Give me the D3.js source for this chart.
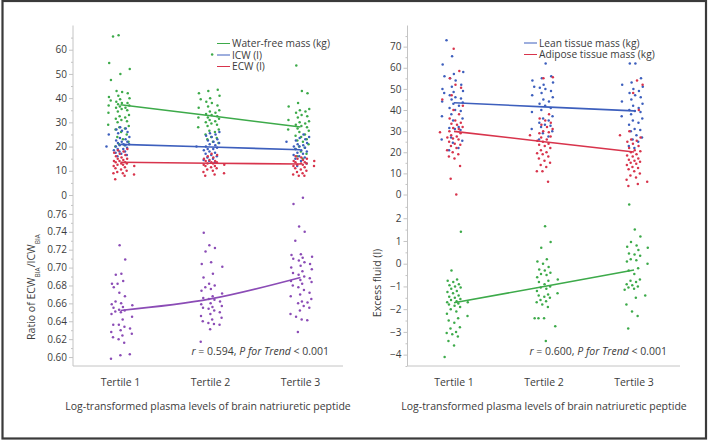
<!DOCTYPE html>
<html>
<head>
<meta charset="utf-8">
<script src="https://d3js.org/d3.v7.min.js"></script>
<style>
  body { margin: 0; background: #fff; }
  svg { display: block; font-family: "Open Sans", sans-serif; }
</style>
</head>
<body>
<svg id="chart" width="709" height="442"></svg>
<script>
// ---- data ----
const tertiles = ["Tertile 1", "Tertile 2", "Tertile 3"];

// left panel, upper part
const waterFree = [
  [65.5, 66, 54.5, 52, 50, 47.5, 43, 42.5, 42, 41, 40.5, 40, 39.5, 39, 38.5, 38, 38, 37.5, 37, 37, 36.5, 36, 36, 35.5, 35, 34.5, 34, 33, 32.5, 32, 31.5, 31, 30.5, 30, 29, 28.5, 28, 27.5, 27, 26, 25, 24, 23, 22, 21, 20.5, 20],
  [58, 43.5, 43, 42, 41, 40, 39.5, 38.5, 38, 37, 36.5, 36, 35, 34.5, 34, 33.5, 33, 32.5, 32, 32, 31.5, 31, 30.5, 30, 29.5, 29, 28.5, 28, 27, 26.5, 26, 25, 24, 23.5, 23, 22, 21.5],
  [53.5, 43, 42, 38, 36.5, 35.5, 35, 34.5, 34, 33, 32.5, 32, 31, 30.5, 30, 29.5, 29, 28.5, 28, 27.5, 27, 26.5, 26, 25, 24.5, 24, 23, 22.5, 22, 21, 20, 19.5, 19, 18, 17, 16, 15]
];
const icw = [
  [28, 27.5, 27, 26.5, 26, 25.5, 25, 24, 23.5, 23, 22.5, 22, 22, 21.5, 21, 21, 20.5, 20.5, 20, 20, 19.5, 19, 19, 18.5, 18, 18, 17.5, 17, 16.5, 16],
  [26, 25.5, 25, 24.5, 24, 23, 22.5, 22, 21.5, 21, 20.5, 20, 20, 19.5, 19, 19, 18.5, 18, 17.5, 17, 16.5, 16, 15.5, 15, 14.5, 14, 13.5],
  [25, 24, 23.5, 23, 22.5, 22, 21.5, 21, 20.5, 20, 20, 19.5, 19, 18.5, 18, 17.5, 17, 16.5, 16, 15.5, 15, 14, 13, 12]
];
const ecw = [
  [19, 18.5, 18, 17.5, 17, 16.5, 16, 15.5, 15, 15, 14.5, 14, 14, 13.5, 13.5, 13, 13, 12.5, 12.5, 12, 12, 11.5, 11, 10.5, 10, 9.5, 9, 9, 8.5, 8, 6.5],
  [17, 16.5, 16, 15.5, 15, 14.5, 14, 14, 13.5, 13.5, 13, 13, 12.5, 12.5, 12, 12, 11.5, 11, 10.5, 10, 9.5, 9, 8.5, 8],
  [16, 15.5, 15, 15, 14.5, 14, 14, 13.5, 13.5, 13, 13, 12.5, 12.5, 12, 12, 11.5, 11, 10.5, 10, 9.5, 9, 8.5, 8, 8]
];
const waterFreeTrend = [37.3, 32.7, 28.1];
const icwTrend = [20.9, 19.8, 18.7];
const ecwTrend = [13.5, 13.1, 12.8];

// left panel, lower part
const ratio = [
  [0.725, 0.709, 0.692, 0.693, 0.682, 0.682, 0.685, 0.678, 0.672, 0.668, 0.662, 0.660, 0.659, 0.658, 0.656, 0.655, 0.653, 0.652, 0.651, 0.650, 0.648, 0.645, 0.642, 0.636, 0.636, 0.634, 0.632, 0.630, 0.628, 0.626, 0.624, 0.622, 0.620, 0.616, 0.603, 0.602, 0.598],
  [0.739, 0.725, 0.722, 0.718, 0.706, 0.704, 0.701, 0.693, 0.689, 0.682, 0.680, 0.678, 0.676, 0.674, 0.671, 0.668, 0.666, 0.665, 0.664, 0.662, 0.660, 0.659, 0.657, 0.656, 0.655, 0.654, 0.652, 0.650, 0.648, 0.646, 0.644, 0.642, 0.640, 0.638, 0.637, 0.636, 0.631, 0.617],
  [0.778, 0.771, 0.746, 0.740, 0.730, 0.715, 0.714, 0.712, 0.711, 0.710, 0.708, 0.706, 0.704, 0.702, 0.700, 0.698, 0.696, 0.694, 0.692, 0.690, 0.688, 0.686, 0.685, 0.684, 0.682, 0.680, 0.678, 0.675, 0.672, 0.670, 0.668, 0.665, 0.662, 0.661, 0.660, 0.657, 0.655, 0.652, 0.648, 0.645, 0.642, 0.641, 0.628]
];
const ratioTrend = [0.652, 0.665, 0.689];

// right panel, upper part
const lean = [
  [73, 65.5, 61.5, 58, 57, 56, 55, 54, 52, 51, 50, 49, 48.5, 48, 47, 46, 45.5, 45, 44, 43.5, 43, 42, 41, 40, 39.5, 38, 37, 36, 35, 32, 31.5, 31, 30.5, 27, 26, 25.5, 24.5, 22, 21],
  [62, 56, 55, 54, 53, 52, 51, 50.5, 50, 49, 48, 47, 46, 45, 44, 43, 42, 41, 40, 39, 37, 36, 35, 34, 33, 32.5, 32, 31, 30, 29, 27.5, 26],
  [62, 62, 55, 53, 52, 51, 50, 49, 48, 47, 46, 45, 44, 43, 42, 41, 40, 39.5, 39, 38, 37, 36, 35, 34, 33, 31, 30.5, 30, 28, 27, 26, 25, 23, 22]
];
const adipose = [
  [69, 58.5, 55, 52, 50.5, 47, 45, 42, 40, 38, 36, 35, 34, 33.5, 33, 32, 31.5, 31, 30, 29.5, 29, 28, 27.5, 27, 26.5, 26, 25, 24, 23.5, 23, 22, 21, 20, 19, 18, 17, 13.5, 7.5, 0],
  [55.5, 55, 38, 36, 35, 34, 33, 32, 31, 30, 29.5, 29, 28, 27.5, 27, 26, 25.5, 25, 24, 23.5, 23, 22, 21, 20, 19.5, 19, 18, 17, 16, 15, 14, 13, 11, 11, 6],
  [54, 52, 48, 40, 30, 28, 27, 26, 25.5, 25, 24, 23, 22, 21, 20.5, 20, 19, 18.5, 18, 17, 16.5, 16, 15.5, 15, 14.5, 14, 13, 12.5, 12, 11, 10, 9, 8, 7, 6, 5, 4]
];
const leanTrend = [43.4, 41.5, 39.6];
const adiposeTrend = [29.9, 25.0, 20.1];

// right panel, lower part
const excess = [
  [1.4, -0.3, -0.7, -0.75, -0.8, -0.9, -0.95, -1.0, -1.05, -1.1, -1.2, -1.25, -1.3, -1.4, -1.45, -1.5, -1.55, -1.6, -1.65, -1.7, -1.7, -1.75, -1.8, -1.85, -1.9, -2.0, -2.1, -2.2, -2.3, -2.4, -2.5, -2.6, -2.8, -2.85, -3.0, -3.05, -3.1, -3.2, -3.4, -3.6, -4.1],
  [1.65, 0.95, 0.7, 0.2, 0.1, 0.0, -0.15, -0.25, -0.3, -0.4, -0.45, -0.5, -0.6, -0.7, -0.75, -0.8, -0.9, -1.0, -1.05, -1.1, -1.2, -1.3, -1.35, -1.4, -1.45, -1.5, -1.6, -1.65, -1.7, -1.8, -1.9, -2.4, -2.4, -2.4, -2.75, -3.4],
  [2.6, 1.5, 1.2, 0.95, 0.8, 0.75, 0.7, 0.6, 0.45, 0.4, 0.35, 0.2, 0.15, 0.1, 0.0, -0.2, -0.3, -0.45, -0.7, -0.75, -0.8, -0.9, -0.95, -1.0, -1.05, -1.1, -1.15, -1.4, -1.5, -1.8, -2.1, -2.3, -2.85]
];
const excessTrend = [-1.72, -1.0, -0.28];

// tick labels
const leftUpperTicks = [0, 10, 20, 30, 40, 50, 60];
const leftLowerTicks = [0.60, 0.62, 0.64, 0.66, 0.68, 0.70, 0.72, 0.74, 0.76];
const rightUpperTicks = [0, 10, 20, 30, 40, 50, 60, 70];
const rightLowerTicks = [-4, -3, -2, -1, 0, 1, 2];

// ---- drawing ----
const GREEN = "#3daa4a", BLUE = "#3d5fbd", RED = "#d8344c", PURPLE = "#8b4cb6";
const AXIS = "#c4c4c4", TEXT = "#3c3c3c";

const svg = d3.select("#chart");

// outer frame
svg.append("rect")
  .attr("x", 2.5).attr("y", 1).attr("width", 703.5).attr("height", 437.5)
  .attr("fill", "none").attr("stroke", "#3a3a3a").attr("stroke-width", 2.2);

// cheap deterministic spread, denser near the middle
function jitter(i, k) {
  const f1 = (i * 0.618034 + k * 0.31) % 1;
  const f2 = (i * 0.7548777 + k * 0.17 + 0.5) % 1;
  return (f1 + f2 - 1) * 15;
}

function panel(cfg) {
  const g = svg.append("g");
  const x = d3.scalePoint().domain(tertiles).range(cfg.xRange);
  const yU = d3.scaleLinear().domain(cfg.upperDomain).range([cfg.yMid, cfg.yTop]);
  const yL = d3.scaleLinear().domain(cfg.lowerDomain).range([cfg.yBottom, cfg.yMid + 1]);

  // minor ticks
  g.append("g").attr("transform", `translate(${cfg.axisX},0)`)
    .call(d3.axisLeft(yU).tickValues(cfg.upperMinor).tickSize(2).tickFormat(""))
    .call(s => s.select(".domain").remove());
  g.append("g").attr("transform", `translate(${cfg.axisX},0)`)
    .call(d3.axisLeft(yL).tickValues(cfg.lowerMinor).tickSize(2).tickFormat(""))
    .call(s => s.select(".domain").remove());

  // major ticks
  g.append("g").attr("transform", `translate(${cfg.axisX},0)`)
    .call(d3.axisLeft(yU).tickValues(cfg.upperTicks).tickSize(4).tickPadding(2).tickFormat(d3.format("d")))
    .call(s => s.select(".domain").remove());
  g.append("g").attr("transform", `translate(${cfg.axisX},0)`)
    .call(d3.axisLeft(yL).tickValues(cfg.lowerTicks).tickSize(4).tickPadding(2).tickFormat(cfg.lowerFormat))
    .call(s => s.select(".domain").remove());

  g.selectAll(".tick line").attr("stroke", AXIS);
  g.selectAll(".tick text").attr("fill", TEXT).style("font-size", "10px")
    .style("font-family", "'Open Sans', sans-serif");

  // axis lines
  g.append("line").attr("x1", cfg.axisX).attr("x2", cfg.axisX)
    .attr("y1", cfg.yTop).attr("y2", cfg.yBottom).attr("stroke", AXIS);
  g.append("line").attr("x1", cfg.axisX).attr("x2", cfg.xEnd)
    .attr("y1", cfg.yBottom).attr("y2", cfg.yBottom).attr("stroke", AXIS);

  // x categories
  g.selectAll("text.cat").data(tertiles).join("text")
    .attr("class", "cat")
    .attr("x", d => x(d)).attr("y", cfg.yBottom + 20)
    .attr("text-anchor", "middle").attr("fill", TEXT).style("font-size", "10.5px")
    .text(d => d);

  g.append("text")
    .attr("x", cfg.titleX).attr("y", cfg.yBottom + 44)
    .attr("text-anchor", "middle").attr("fill", TEXT).style("font-size", "10.5px")
    .text("Log-transformed plasma levels of brain natriuretic peptide");

  // series
  const all = cfg.series.map((s, k) => ({...s, k}));
  all.forEach(s => {
    const y = s.lower ? yL : yU;
    const pts = [];
    s.values.forEach((arr, t) => arr.forEach((v, i) => pts.push({t: tertiles[t], v, i: i + t * 7})));
    g.append("g").selectAll("circle").data(pts).join("circle")
      .attr("cx", d => x(d.t) + jitter(d.i, s.k))
      .attr("cy", d => y(d.v))
      .attr("r", 1.25)
      .attr("fill", s.color);
  });
  all.forEach(s => {
    const y = s.lower ? yL : yU;
    const line = d3.line()
      .x((d, i) => x(tertiles[i]))
      .y(d => y(d))
      .curve(s.curve || d3.curveLinear);
    g.append("path").datum(s.trend)
      .attr("d", line).attr("fill", "none")
      .attr("stroke", s.color).attr("stroke-width", 1.6);
  });

  // legend
  cfg.legend.forEach((l, i) => {
    const ly = cfg.legendY + i * 11.5;
    g.append("line").attr("x1", cfg.legendX).attr("x2", cfg.legendX + 13)
      .attr("y1", ly).attr("y2", ly).attr("stroke", l.color).attr("stroke-width", 1);
    g.append("text").attr("x", cfg.legendX + 15).attr("y", ly + 3.6)
      .attr("fill", TEXT).style("font-size", "10.2px").text(l.label);
  });

  // correlation note
  const note = g.append("text").attr("x", cfg.noteX).attr("y", cfg.yBottom - 11)
    .attr("text-anchor", "end").attr("fill", TEXT).style("font-size", "10.5px");
  note.append("tspan").style("font-style", "italic").text("r");
  note.append("tspan").text(` = ${cfg.r}, `);
  note.append("tspan").style("font-style", "italic").text("P for Trend");
  note.append("tspan").text(" < 0.001");

  return g;
}

const left = panel({
  axisX: 73, xEnd: 343, xRange: [120.5, 300.5], titleX: 208,
  yTop: 25.5, yMid: 195, yBottom: 366,
  upperDomain: [0, 70], lowerDomain: [0.59, 0.78],
  upperTicks: leftUpperTicks, lowerTicks: leftLowerTicks,
  upperMinor: [5, 15, 25, 35, 45, 55, 65],
  lowerMinor: [0.61, 0.63, 0.65, 0.67, 0.69, 0.71, 0.73, 0.75, 0.77],
  lowerFormat: d3.format(".2f"),
  series: [
    {values: waterFree, trend: waterFreeTrend, color: GREEN},
    {values: icw, trend: icwTrend, color: BLUE},
    {values: ecw, trend: ecwTrend, color: RED},
    {values: ratio, trend: ratioTrend, color: PURPLE, lower: true, curve: d3.curveNatural}
  ],
  legendX: 217, legendY: 43.5,
  legend: [
    {label: "Water-free mass (kg)", color: GREEN},
    {label: "ICW (l)", color: BLUE},
    {label: "ECW (l)", color: RED}
  ],
  noteX: 329, r: "0.594"
});

const right = panel({
  axisX: 407.5, xEnd: 680, xRange: [454, 634], titleX: 544,
  yTop: 25.5, yMid: 194.5, yBottom: 366,
  upperDomain: [0, 80], lowerDomain: [-4.5, 3],
  upperTicks: rightUpperTicks, lowerTicks: rightLowerTicks,
  upperMinor: [5, 15, 25, 35, 45, 55, 65, 75],
  lowerMinor: [-4.5, -3.5, -2.5, -1.5, -0.5, 0.5, 1.5, 2.5],
  lowerFormat: d3.format("d"),
  series: [
    {values: lean, trend: leanTrend, color: BLUE},
    {values: adipose, trend: adiposeTrend, color: RED},
    {values: excess, trend: excessTrend, color: GREEN, lower: true}
  ],
  legendX: 524, legendY: 43,
  legend: [
    {label: "Lean tissue mass (kg)", color: BLUE},
    {label: "Adipose tissue mass (kg)", color: RED}
  ],
  noteX: 667, r: "0.600"
});

// y axis titles
const ylab = svg.append("text")
  .attr("transform", "translate(35,287) rotate(-90)")
  .attr("text-anchor", "middle").attr("fill", TEXT).style("font-size", "10.5px");
ylab.append("tspan").text("Ratio of ECW");
ylab.append("tspan").attr("baseline-shift", "sub").style("font-size", "6.5px").text("BIA");
ylab.append("tspan").text("/ICW");
ylab.append("tspan").attr("baseline-shift", "sub").style("font-size", "6.5px").text("BIA");

svg.append("text")
  .attr("transform", "translate(380.5,283) rotate(-90)")
  .attr("text-anchor", "middle").attr("fill", TEXT).style("font-size", "10.5px")
  .text("Excess fluid (l)");
</script>
</body>
</html>
